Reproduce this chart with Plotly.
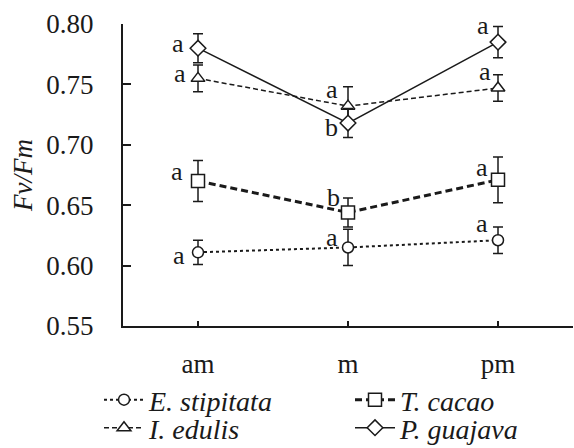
import plotly.graph_objects as go

# Time of day
periods = ["am", "m", "pm"]

# Mean Fv/Fm per species and standard errors
e_stipitata = [0.611, 0.615, 0.621]
e_stipitata_err = [0.010, 0.015, 0.011]
i_edulis = [0.755, 0.732, 0.747]
i_edulis_err = [0.011, 0.016, 0.011]
t_cacao = [0.670, 0.644, 0.671]
t_cacao_err = [0.017, 0.012, 0.019]
p_guajava = [0.780, 0.718, 0.785]
p_guajava_err = [0.012, 0.012, 0.013]

# Significance letters
e_stipitata_sig = ["a", "a", "a"]
i_edulis_sig = ["a", "a", "a"]
t_cacao_sig = ["a", "b", "a"]
p_guajava_sig = ["a", "b", "a"]

y_ticks = [0.55, 0.60, 0.65, 0.70, 0.75, 0.80]

INK = "#1a1a1a"
FONT = "Liberation Serif, Times New Roman, Times, DejaVu Serif, serif"
W, H = 574, 448

# each species gets its own legend box so the 2x2 key can be placed freely
series = [
    dict(name="<i>E. stipitata</i>", y=e_stipitata, err=e_stipitata_err, sig=e_stipitata_sig,
         symbol="circle", size=11, dash="dot", width=2, legend="legend",
         key_pos=(99, 400), shifts=[(-19, -3), (-16, 10), (-16, 17)]),
    dict(name="<i>T. cacao</i>", y=t_cacao, err=t_cacao_err, sig=t_cacao_sig,
         symbol="square", size=13, dash="7px,4px", width=3, legend="legend2",
         key_pos=(350, 400), shifts=[(-21, 10), (-15, 15), (-16, 12)]),
    dict(name="<i>I. edulis</i>", y=i_edulis, err=i_edulis_err, sig=i_edulis_sig,
         symbol="triangle-up", size=12, dash="5px,3px", width=1.5, legend="legend3",
         key_pos=(99, 428), shifts=[(-18, 5), (-16, 17), (-13, 17)]),
    dict(name="<i>P. guajava</i>", y=p_guajava, err=p_guajava_err, sig=p_guajava_sig,
         symbol="diamond", size=12, dash="solid", width=1.5, legend="legend4",
         key_pos=(350, 428), shifts=[(-20, 5), (-17, -4), (-15, 17)]),
]

fig = go.Figure()
annotations = []
legends = {}
for s in series:
    fig.add_trace(go.Scatter(
        x=periods, y=s["y"], name=s["name"], mode="lines+markers",
        legend=s["legend"],
        line=dict(color=INK, width=s["width"], dash=s["dash"]),
        marker=dict(symbol=s["symbol"], size=s["size"], color="white",
                    line=dict(color=INK, width=1.5)),
        error_y=dict(type="data", array=s["err"], visible=True,
                     color=INK, thickness=1.5, width=5),
        cliponaxis=False,
    ))
    for xv, yv, letter, (dx, dy) in zip(periods, s["y"], s["sig"], s["shifts"]):
        annotations.append(dict(
            x=xv, y=yv, text=letter, showarrow=False, xref="x", yref="y",
            xshift=dx, yshift=dy, font=dict(family=FONT, size=26, color=INK),
        ))
    kx, ky = s["key_pos"]
    legends[s["legend"]] = dict(
        orientation="h", xref="container", yref="container",
        x=kx / W, xanchor="left", y=1 - ky / H, yanchor="middle",
        font=dict(family=FONT, size=28, color=INK),
        bgcolor="rgba(0,0,0,0)", borderwidth=0, itemwidth=40,
    )

fig.update_layout(
    width=W, height=H,
    margin=dict(l=123, r=1, t=24, b=122),
    paper_bgcolor="white", plot_bgcolor="white",
    font=dict(family=FONT, size=27, color=INK),
    showlegend=True,
    annotations=annotations,
    **legends,
)

fig.update_xaxes(
    type="category", range=[-0.5, 2.5],
    showline=True, linecolor=INK, linewidth=2,
    ticks="inside", ticklen=5, tickwidth=1.5, tickcolor=INK,
    showgrid=False, zeroline=False, automargin=False,
    ticklabelstandoff=13,
    tickfont=dict(family=FONT, size=27, color=INK),
)
fig.update_yaxes(
    range=[0.55, 0.80], tickvals=y_ticks,
    ticktext=[f"{v:.2f}" for v in y_ticks],
    showline=True, linecolor=INK, linewidth=2,
    ticks="inside", ticklen=8, tickwidth=1.5, tickcolor=INK,
    showgrid=False, zeroline=False, automargin=False,
    ticklabelstandoff=22,
    tickfont=dict(family=FONT, size=27, color=INK),
    title=dict(text="<i>Fv/Fm</i>", standoff=6,
               font=dict(family=FONT, size=27, color=INK)),
)

fig.write_html("out.html")
